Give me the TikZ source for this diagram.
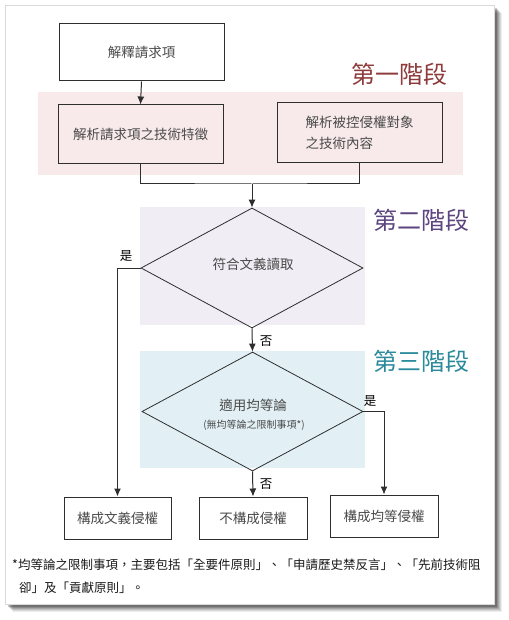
\documentclass[tikz,border=0pt]{standalone}
\usepackage{fontspec}
\setmainfont{Noto Sans CJK TC}
\usetikzlibrary{shapes.geometric,arrows.meta}
\definecolor{boxtext}{HTML}{4A4A4A}
\definecolor{linecol}{HTML}{2E2E2E}
\definecolor{pinkband}{HTML}{F8EAEB}
\definecolor{purpleband}{HTML}{F0EDF4}
\definecolor{blueband}{HTML}{E2F0F5}
\definecolor{stageone}{HTML}{8E3B3B}
\definecolor{stagetwo}{HTML}{5C4580}
\definecolor{stagethree}{HTML}{2B8A9B}
\tikzset{
  flowbox/.style={draw=linecol, line width=1pt, text=boxtext, font=\fontsize{13.5}{16}\selectfont, inner sep=0pt},
  decision/.style={draw=linecol, line width=0.8pt, shape=diamond, inner sep=0pt, text=boxtext, align=center},
  conn/.style={draw=linecol, line width=1pt},
  arrowconn/.style={conn, -{Latex[length=8pt,width=7pt]}},
  stagelabel/.style={font=\fontsize{24}{28}\selectfont, inner sep=0pt},
  yesno/.style={font=\fontsize{12.5}{14}\selectfont, text=black, inner sep=0pt},
  footnote/.style={font=\fontsize{12.5}{15}\selectfont, text=black!90, inner sep=0pt, anchor=west}
}
\begin{document}
\begin{tikzpicture}[x=1pt, y=-1pt]
\useasboundingbox (0,0) rectangle (508,620);
% shadow and panel
\foreach \o/\op in {8/0.07,7/0.09,6/0.11,5/0.13,4/0.16,3/0.2}
  \fill[black, opacity=\op] (5+\o,5+\o) rectangle (494+\o,604+\o);
\fill[white] (5,5) rectangle (494,604);
\draw[black!15, line width=0.8pt] (5,5) rectangle (494,604);
% bands
\fill[pinkband] (38,92) rectangle (463,175);
\fill[purpleband] (140,207) rectangle (365,325);
\fill[blueband] (140,351) rectangle (365,468);
% stage labels
\node[stagelabel, text=stageone] (s1) at (399,74) {第一階段};
\node[stagelabel, text=stagetwo] (s2) at (421,220) {第二階段};
\node[stagelabel, text=stagethree] (s3) at (421,361) {第三階段};
% boxes
\node[flowbox, minimum width=165, minimum height=57] (b1) at (141.5,52.5) {解釋請求項};
\node[flowbox, minimum width=165, minimum height=59] (b2) at (140.5,134.5) {解析請求項之技術特徵};
\node[flowbox, minimum width=165, minimum height=60, align=left, font=\fontsize{13.5}{21}\selectfont] (b3) at (359.5,133) {解析被控侵權對象\\之技術內容};
% diamonds
\node[decision, minimum width=222, minimum height=120] (d1) at (252,268) {};
\node[text=boxtext, font=\fontsize{13.5}{16}\selectfont, inner sep=0pt] (d1t) at (253,264) {符合文義讀取};
\node[decision, minimum width=221, minimum height=119] (d2) at (252.5,411.5) {};
\node[text=boxtext, font=\fontsize{13.5}{16}\selectfont, inner sep=0pt] (d2t) at (253,405) {適用均等論};
\node[text=boxtext, font=\fontsize{10}{12}\selectfont, inner sep=0pt] (d2s) at (254,425) {(無均等論之限制事項*)};
% result boxes
\node[flowbox, minimum width=107, minimum height=42] (bl) at (117.5,518) {構成文義侵權};
\node[flowbox, minimum width=108, minimum height=42] (bm) at (253,518) {不構成侵權};
\node[flowbox, minimum width=108, minimum height=42] (br) at (384,516) {構成均等侵權};
% connectors
\coordinate (j) at (252,184);
\draw[arrowconn] (b1.south) -- (b2.north);
\draw[conn] (b2.south) |- (j) -| (b3.south);
\draw[arrowconn] (j) -- (d1.north);
\draw[arrowconn] (d1.west) -| (bl.north);
\draw[arrowconn] (d1.south) -- (d2.north);
\draw[arrowconn] (d2.east) -| (br.north);
\draw[arrowconn] (d2.south) -- (bm.north);
% yes/no labels
\node[yesno] (y1) at (126,256) {是};
\node[yesno] (n1) at (266,341) {否};
\node[yesno] (y2) at (370,401) {是};
\node[yesno] (n2) at (266,484) {否};
% footnote
\node[footnote] (f1) at (12,565) {*均等論之限制事項，主要包括「全要件原則」、「申請歷史禁反言」、「先前技術阻};
\node[footnote] (f2) at (19,588) {卻」及「貢獻原則」。};
\end{tikzpicture}
\end{document}
